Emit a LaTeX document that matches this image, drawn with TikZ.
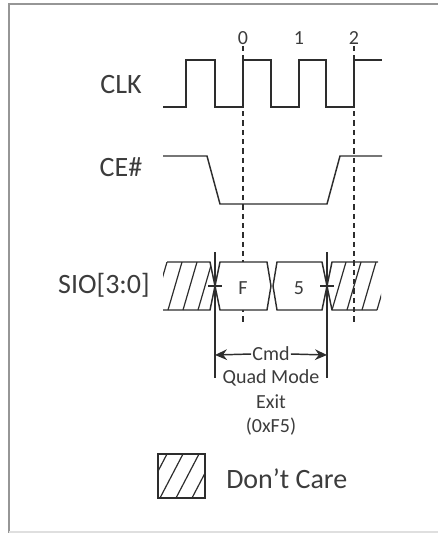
\documentclass[tikz,border=0pt]{standalone}
\usepackage{fontspec}
\setmainfont{Carlito}
\usepackage{tikz}
\usetikzlibrary{arrows.meta}
\definecolor{wire}{RGB}{45,45,45}
\definecolor{txt}{RGB}{60,60,60}
\definecolor{frm}{RGB}{150,150,150}
\tikzset{
  sig/.style={color=wire, line width=1.1},
  hatch/.style={color=wire, line width=0.9},
  guide/.style={color=wire, line width=1.1, dash pattern=on 4pt off 3pt},
  lbl/.style={color=txt, inner sep=0.75pt, font=\fontsize{21}{24}\selectfont},
  small/.style={color=txt, inner sep=0.75pt, font=\fontsize{15}{17}\selectfont}
}

\begin{document}
\begin{tikzpicture}[x=0.75pt,y=0.75pt,yscale=-1,xscale=1]
\useasboundingbox (0,0) rectangle (438,533);
% frame
\draw [color=frm, line width=1.5] (9,533) -- (9,4) -- (438,4) ;
\draw [color=frm!30, line width=1] (9,532) -- (438,532) ;
% signal names
\draw (121,85) node [lbl] (clk) {CLK};
\draw (121,167) node [lbl] (ce) {CE\#};
\draw (104,285) node [lbl] (sio) {SIO[3:0]};
% clock numbers
\draw (243,38) node [small] (n0) {0};
\draw (299,38) node [small] (n1) {1};
\draw (354,38) node [small] (n2) {2};
% clock
\draw [sig] (163,107) -- (186,107) -- (186,60) -- (215,60) -- (215,107) -- (243,107) -- (243,60) -- (271,60) -- (271,107) -- (299,107) -- (299,60) -- (326,60) -- (326,107) -- (354,107) -- (354,60) -- (382,60) ;
% chip enable
\draw [sig] (163,156) -- (207,156) -- (220,204) -- (327,204) -- (340,156) -- (382,156) ;
% dashed guides
\draw [guide] (n0.south) -- (243,323) ;
\draw [guide] (n2.south) -- (354,323) ;
% don't care, left
\begin{scope}
\clip (163,262) -- (210,262) -- (215,286) -- (210,310) -- (163,310) -- cycle ;
\foreach \b in {153,168,183,198,213} {
  \draw [hatch] (\b,310) -- (\b+14,262) ;
}
\end{scope}
\draw [sig] (167,262) -- (210,262) -- (215,286) -- (210,310) -- (163,310) ;
% data cells
\draw [sig, fill=white] (215,286) -- (220,262) -- (267,262) -- (271,286) -- (267,310) -- (220,310) -- cycle ;
\draw [sig, fill=white] (273,286) -- (277,262) -- (322,262) -- (327,286) -- (322,310) -- (277,310) -- cycle ;
\draw (243,288) node [small] (f) {F};
\draw (299,288) node [small] (s) {5};
% don't care, right
\begin{scope}
\clip (327,286) -- (332,262) -- (381,262) -- (381,310) -- (332,310) -- cycle ;
\foreach \b in {332,347,362,377} {
  \draw [hatch] (\b,310) -- (\b+14,262) ;
}
\end{scope}
\draw [sig] (378,262) -- (332,262) -- (327,286) -- (332,310) -- (377,310) ;
% boundaries
\draw [sig] (215,252) -- (215,378) ;
\draw [sig] (327,252) -- (327,378) ;
\draw [sig] (208,286) -- (222,286) ;
\draw [sig] (320,286) -- (334,286) ;
% command span
\draw (271,354) node [small] (cmd) {Cmd};
\coordinate (cmdL) at (215,355) ;
\coordinate (cmdR) at (327,355) ;
\draw [sig, -{Stealth[length=9pt,width=8pt]}] (cmd.west) -- (cmdL) ;
\draw [sig, -{Stealth[length=9pt,width=8pt]}] (cmd.east) -- (cmdR) ;
\draw (271,378) node [small] (quad) {Quad Mode};
\draw (271,402) node [small] (exit) {Exit};
\draw (271,427) node [small] (code) {(0xF5)};
% legend
\begin{scope}
\clip (158,454) rectangle (205,498) ;
\foreach \b in {144,160,176,192} {
  \draw [hatch] (\b,498) -- (\b+23,454) ;
}
\end{scope}
\draw [color=wire, line width=1.6] (158,454) rectangle (205,498) ;
\draw (225,479) node [lbl, anchor=west] (dc) {Don’t Care};
\end{tikzpicture}
\end{document}
